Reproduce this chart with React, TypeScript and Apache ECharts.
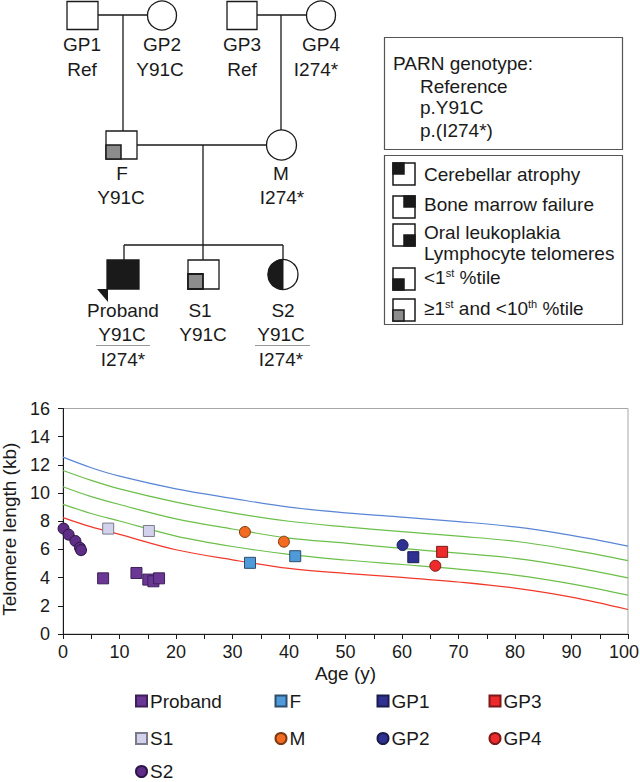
import React, { useEffect, useRef } from "react";
import * as echarts from "echarts";

const FONT = "Liberation Sans, Arial, Helvetica, sans-serif";

// Percentile curves (age in years, telomere length in kb)
const curveAges = [0, 5, 10, 20, 30, 40, 50, 60, 70, 80, 90, 100];
const p99 = [12.55, 11.8, 11.2, 10.3, 9.62, 9.0, 8.6, 8.29, 7.98, 7.6, 7.0, 6.24];
const p90 = [11.6, 10.9, 10.3, 9.36, 8.6, 8.0, 7.6, 7.26, 6.94, 6.58, 5.97, 5.21];
const p50 = [10.45, 9.75, 9.19, 8.17, 7.45, 6.8, 6.45, 6.07, 5.74, 5.37, 4.76, 3.98];
const p10 = [9.2, 8.55, 8.02, 6.95, 6.21, 5.65, 5.25, 4.93, 4.6, 4.18, 3.56, 2.76];
const p1 = [8.26, 7.6, 7.07, 5.98, 5.26, 4.65, 4.3, 4.02, 3.69, 3.26, 2.62, 1.74];

// Individuals: [age, telomere length]
const proband = [[7.1, 3.95], [13.0, 4.33], [15.1, 3.86], [16.0, 3.74], [17.0, 3.95]];
const s1 = [[8.0, 7.48], [15.2, 7.31]];
const s2 = [[0.1, 7.48], [1.0, 7.05], [2.2, 6.6], [3.0, 6.12], [3.2, 5.95]];
const father = [[33.1, 5.05], [41.1, 5.52]];
const mother = [[32.2, 7.24], [39.1, 6.55]];
const gp1 = [[62.0, 5.45]];
const gp2 = [[60.1, 6.31]];
const gp3 = [[67.1, 5.83]];
const gp4 = [[65.9, 4.84]];

const xTicks = { min: 0, max: 100, interval: 10 };
const yTicks = { min: 0, max: 16, interval: 2 };

const legendCols = [["Proband", "S1"], ["S2"], ["F", "M"], ["GP1", "GP2"], ["GP3", "GP4"]];
const legendLefts = [135, 135, 274.5, 376.5, 488.5];
const legendTops = [691, 762, 691, 691, 691];

const INK = "#1a1a1a";

function ln(x1: number, y1: number, x2: number, y2: number, color = INK, w = 1.3) {
  return { type: "line", shape: { x1, y1, x2, y2 }, style: { stroke: color, lineWidth: w }, silent: true };
}
function rc(x: number, y: number, w: number, h: number, fill = "#fff", stroke = INK, lw = 1.3) {
  return { type: "rect", shape: { x, y, width: w, height: h }, style: { fill, stroke, lineWidth: lw }, silent: true };
}
function ci(cx: number, cy: number, r: number, fill = "#fff") {
  return { type: "circle", shape: { cx, cy, r }, style: { fill, stroke: INK, lineWidth: 1.3 }, silent: true };
}
function tx(x: number, y: number, text: string, align = "center", size = 19) {
  return {
    type: "text",
    x,
    y,
    silent: true,
    style: { text, fill: INK, fontSize: size, fontFamily: FONT, align, verticalAlign: "middle" },
  };
}
function rich(x: number, y: number, text: string) {
  return {
    type: "text",
    x,
    y,
    silent: true,
    style: {
      text,
      fill: INK,
      align: "left",
      verticalAlign: "middle",
      fontSize: 19,
      fontFamily: FONT,
      rich: {
        n: { fontSize: 19, fontFamily: FONT, fill: INK, verticalAlign: "bottom" },
        s: { fontSize: 11, fontFamily: FONT, fill: INK, verticalAlign: "top" },
      },
    },
  };
}
// icon: quadrant "tl" | "tr" | "br" | "bl"
function icon(x: number, y: number, q: string, fill: string) {
  const s = 22;
  const h = s / 2;
  const qx = q === "tl" || q === "bl" ? x : x + h;
  const qy = q === "tl" || q === "tr" ? y : y + h;
  return [rc(x, y, s, s, "#fff", INK, 1.5), rc(qx, qy, h, h, fill, INK, 1.5)];
}

function pedigree(): any[] {
  const g: any[] = [];
  // connecting lines
  g.push(ln(98, 15, 147, 15));
  g.push(ln(123, 15, 123, 131));
  g.push(ln(257, 15, 306, 15));
  g.push(ln(281, 15, 281, 130));
  g.push(ln(137, 145, 266, 145));
  g.push(ln(203, 145, 203, 245));
  g.push(ln(124, 245, 283, 245));
  g.push(ln(124, 245, 124, 260));
  g.push(ln(203, 245, 203, 260));
  g.push(ln(283, 245, 283, 260));
  // grandparents
  g.push(rc(67, 1.5, 31, 28));
  g.push(ci(162, 15.5, 14.5));
  g.push(rc(227, 1.5, 30, 28));
  g.push(ci(321, 15.5, 14.5));
  // parents
  g.push(rc(106, 131, 31, 28));
  g.push(rc(106, 145, 15, 14, "#8c8c8c", INK, 1.5));
  g.push(ci(281.5, 145, 15));
  // children
  g.push(rc(107, 260, 32, 29, INK));
  g.push({
    type: "polygon",
    shape: { points: [[97, 289], [108, 289], [108, 302]] },
    style: { fill: INK },
    silent: true,
  });
  g.push(rc(188, 260, 31, 29));
  g.push(rc(188, 274, 15, 15, "#8c8c8c", INK, 1.8));
  g.push(ci(283, 274.5, 15));
  g.push({
    type: "sector",
    shape: { cx: 283, cy: 274.5, r0: 0, r: 15, startAngle: Math.PI / 2, endAngle: (3 * Math.PI) / 2, clockwise: true },
    style: { fill: INK, stroke: INK, lineWidth: 1 },
    silent: true,
  });
  // labels
  g.push(tx(82, 44, "GP1"), tx(82, 69, "Ref"));
  g.push(tx(162, 44, "GP2"), tx(160, 69, "Y91C"));
  g.push(tx(242, 44, "GP3"), tx(242, 69, "Ref"));
  g.push(tx(321, 44, "GP4"), tx(316, 69, "I274*"));
  g.push(tx(122, 173, "F"), tx(121, 197, "Y91C"));
  g.push(tx(281, 173, "M"), tx(282, 197, "I274*"));
  g.push(tx(123, 310, "Proband"), tx(122, 334, "Y91C"), ln(96, 345.5, 150, 345.5, "#9a9a9a", 1), tx(123, 359, "I274*"));
  g.push(tx(200, 310, "S1"), tx(203, 334, "Y91C"));
  g.push(tx(283, 310, "S2"), tx(281, 334, "Y91C"), ln(255, 345.5, 310, 345.5, "#9a9a9a", 1), tx(281, 359, "I274*"));

  // genotype box
  g.push(rc(384.5, 37.5, 238, 112, "none", "#555", 1.2));
  g.push(tx(393, 63, "PARN genotype:", "left"));
  g.push(tx(420, 86, "Reference", "left"));
  g.push(tx(420, 107, "p.Y91C", "left"));
  g.push(tx(420, 130, "p.(I274*)", "left"));

  // phenotype box
  g.push(rc(384.5, 155.5, 238, 169, "none", "#555", 1.2));
  g.push(...icon(393, 163, "tl", INK), tx(424, 174, "Cerebellar atrophy", "left"));
  g.push(...icon(393, 196, "tr", INK), tx(424, 204, "Bone marrow failure", "left"));
  g.push(...icon(393, 224, "br", INK), tx(424, 232, "Oral leukoplakia", "left"));
  g.push(tx(424, 253, "Lymphocyte telomeres", "left"));
  g.push(...icon(393, 268, "bl", INK), rich(424, 277, "{n|<1}{s|st}{n| %tile}"));
  g.push(...icon(393, 299, "bl", "#8c8c8c"), rich(424, 308, "{n|≥1}{s|st}{n| and <10}{s|th}{n| %tile}"));
  return g;
}

function curve(name: string, vals: number[], color: string) {
  return {
    name,
    type: "line",
    data: curveAges.map((a, i) => [a, vals[i]]),
    smooth: 0.35,
    showSymbol: false,
    symbol: "none",
    silent: true,
    lineStyle: { color, width: 1.2 },
    z: 1,
  };
}

function pts(name: string, data: number[][], symbol: string, color: string, border: string) {
  return {
    name,
    type: "scatter",
    data,
    symbol,
    symbolSize: 11,
    itemStyle: { color, borderColor: border, borderWidth: 1, opacity: 1 },
    z: 3,
  };
}

export default function App() {
  const ref = useRef<HTMLDivElement>(null);
  useEffect(() => {
    if (!ref.current) return;
    const chart = echarts.init(ref.current, undefined, { renderer: "svg" });
    const option: any = {
      animation: false,
      backgroundColor: "#ffffff",
      textStyle: { fontFamily: FONT },
      grid: {
        left: 63,
        right: 12,
        top: 408.5,
        bottom: 148,
        show: true,
        borderColor: "#a8a8a8",
        borderWidth: 1,
        containLabel: false,
        outerBoundsMode: "none",
      },
      xAxis: {
        type: "value",
        min: xTicks.min,
        max: xTicks.max,
        interval: xTicks.interval,
        name: "Age (y)",
        nameLocation: "middle",
        nameGap: 30,
        nameTextStyle: { fontSize: 19, color: INK, fontFamily: FONT },
        axisLine: { show: true, lineStyle: { color: INK, width: 1 } },
        axisTick: { show: true, length: 5, lineStyle: { color: INK } },
        minorTick: { show: true, splitNumber: 2, length: 5, lineStyle: { color: INK } },
        axisLabel: {
          fontSize: 18,
          color: INK,
          margin: 9,
          fontFamily: FONT,
          formatter: (v: number) => (v === xTicks.max ? "{m|" + v + "}" : String(v)),
          rich: { m: { fontSize: 18, fontFamily: FONT, color: INK, padding: [0, 8, 0, 0] } },
        },
        splitLine: { show: false },
      },
      yAxis: {
        type: "value",
        min: yTicks.min,
        max: yTicks.max,
        interval: yTicks.interval,
        name: "Telomere length (kb)",
        nameLocation: "middle",
        nameGap: 42,
        nameTextStyle: { fontSize: 19, color: INK, fontFamily: FONT, padding: [0, 16, 0, 0] },
        axisLine: { show: true, lineStyle: { color: INK, width: 1 } },
        axisTick: { show: true, length: 5, lineStyle: { color: INK } },
        axisLabel: { fontSize: 18, color: INK, margin: 13, fontFamily: FONT },
        splitLine: { show: false },
      },
      legend: legendCols.map((col, i) => ({
        data: col,
        orient: "vertical",
        left: legendLefts[i],
        top: legendTops[i],
        padding: 0,
        itemGap: 17.5,
        itemWidth: 11,
        itemHeight: 11,
        selectedMode: false,
        textStyle: {
          fontSize: 19,
          color: INK,
          fontFamily: FONT,
          lineHeight: i === 1 ? 14 : 20,
          padding: [0, 0, 0, -2],
        },
      })),
      series: [
        curve("99th", p99, "#5a86d6"),
        curve("90th", p90, "#6cbf4a"),
        curve("50th", p50, "#6cbf4a"),
        curve("10th", p10, "#6cbf4a"),
        curve("1st", p1, "#f0392b"),
        pts("Proband", proband, "rect", "#6a3894", "#3d1f5a"),
        pts("S1", s1, "rect", "#d2d2ec", "#7a7a8a"),
        pts("S2", s2, "circle", "#5e2d86", "#2e1546"),
        pts("F", father, "rect", "#4f9bd9", "#2d4d6b"),
        pts("M", mother, "circle", "#f26b21", "#7a3a14"),
        pts("GP1", gp1, "rect", "#2e3192", "#1a1c4a"),
        pts("GP2", gp2, "circle", "#2e3192", "#1a1c4a"),
        pts("GP3", gp3, "rect", "#ee2a2a", "#7a1a1a"),
        pts("GP4", gp4, "circle", "#ee2a2a", "#7a1a1a"),
      ],
      graphic: pedigree(),
    };
    chart.setOption(option);
    return () => chart.dispose();
  }, []);
  return (
    <div
      ref={ref}
      style={{ position: "absolute", left: 0, top: 0, width: 640, height: 782, background: "#fff" }}
    />
  );
}
